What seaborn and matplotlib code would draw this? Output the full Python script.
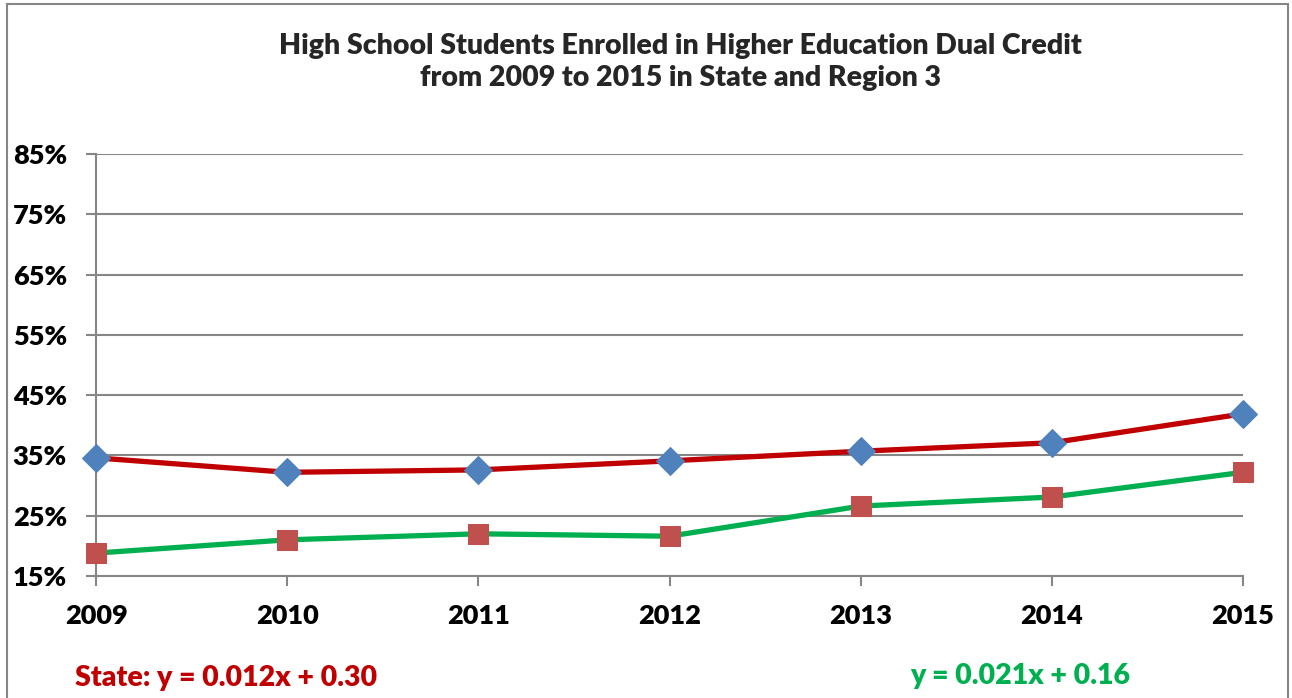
import matplotlib
matplotlib.use("Agg")
import matplotlib.pyplot as plt
import seaborn as sns
import pandas as pd
from matplotlib.ticker import PercentFormatter, FixedLocator
from matplotlib.patches import Rectangle

years = [2009, 2010, 2011, 2012, 2013, 2014, 2015]
state = [0.346, 0.322, 0.326, 0.341, 0.357, 0.371, 0.419]
region3 = [0.188, 0.210, 0.220, 0.216, 0.266, 0.281, 0.322]
yticks = [0.15, 0.25, 0.35, 0.45, 0.55, 0.65, 0.75, 0.85]
title = "High School Students Enrolled in Higher Education Dual Credit\nfrom 2009 to 2015 in State and Region 3"
state_eq = "State: y = 0.012x + 0.30"
region_eq = "y = 0.021x + 0.16"

sns.set_theme(style="white")
plt.rcParams['font.family'] = ['Lato', 'DejaVu Sans']

W, H = 1292, 698
fig = plt.figure(figsize=(W / 100, H / 100), dpi=100)
ax = fig.add_axes([96 / W, 1 - 576 / H, (1243 - 96) / W, (576 - 154) / H])

df = pd.DataFrame({"year": years, "State": state, "Region 3": region3})

sns.lineplot(data=df, x="year", y="State", ax=ax, color="#C00000", lw=3.8,
             marker="D", markersize=14, markerfacecolor="#4F81BD",
             markeredgecolor="#4F81BD", zorder=3, clip_on=False)
sns.lineplot(data=df, x="year", y="Region 3", ax=ax, color="#00B050", lw=3.8,
             marker="s", markersize=14, markerfacecolor="#C0504D",
             markeredgecolor="#C0504D", zorder=3, clip_on=False)

ax.set_xlim(2009, 2015)
ax.set_ylim(0.15, 0.85)
ax.yaxis.set_major_locator(FixedLocator(yticks))
ax.yaxis.set_major_formatter(PercentFormatter(1.0, decimals=0))
ax.set_xticks(years)
ax.set_xticklabels([str(y) for y in years])
ax.set_xlabel("")
ax.set_ylabel("")

ax.grid(axis="y", color="#868686", lw=1.5)
ax.set_axisbelow(True)
for s in ["top", "right"]:
    ax.spines[s].set_visible(False)
for s in ["left", "bottom"]:
    ax.spines[s].set_color("#868686")
    ax.spines[s].set_linewidth(1.5)
ax.tick_params(axis="both", which="both", direction="out", length=7, width=1.5,
               color="#868686", left=True, bottom=True)
ax.tick_params(axis="y", pad=14)
ax.tick_params(axis="x", pad=13)
for lab in ax.get_xticklabels() + ax.get_yticklabels():
    lab.set_fontsize(19.5)
    lab.set_fontweight("heavy")
    lab.set_color("black")

fig.text(680 / W, 1 - 62 / H, title, ha="center", va="center", fontsize=20.5,
         fontweight="heavy", linespacing=1.3)
fig.text(75 / W, 1 - 678 / H, state_eq, ha="left", va="center", fontsize=20.5,
         fontweight="heavy", color="#C00000")
fig.text(910 / W, 1 - 676 / H, region_eq, ha="left", va="center", fontsize=20.5,
         fontweight="heavy", color="#00B050")

fig.patches.append(Rectangle((7 / W, -0.01), (1288 - 7) / W, 1 - 4 / H + 0.01,
                             transform=fig.transFigure, fill=False,
                             edgecolor="#868686", lw=1.5))

fig.savefig("out.png", dpi=100)
